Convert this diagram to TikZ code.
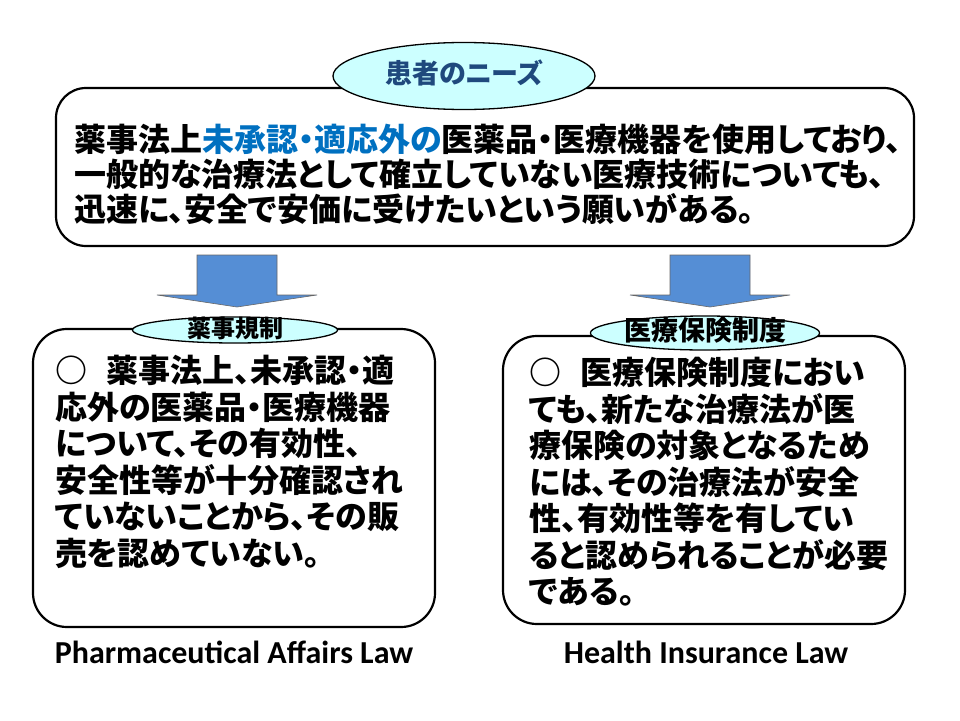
\documentclass[tikz,border=0pt]{standalone}
\usepackage{fontspec}
\newfontfamily\jp{Noto Sans CJK JP}[RawFeature=+palt]
\newfontfamily\lat{Carlito}
\usetikzlibrary{positioning}
\usetikzlibrary{shapes.geometric}
\definecolor{needblue}{RGB}{0,112,192}
\definecolor{capsule}{RGB}{204,255,255}
\definecolor{navy}{RGB}{31,73,125}
\definecolor{arrowfill}{RGB}{85,142,213}
\tikzset{
  panel/.style={draw, line width=2.2pt, rounded corners=34pt, inner sep=0pt},
  tag/.style={ellipse, draw, line width=1.3pt, fill=capsule, inner sep=0pt,
    text height=15pt, text depth=-4pt},
  body/.style={anchor=north west, align=left, inner sep=0pt,
    font=\jp\bfseries\fontsize{32}{36.5}\selectfont},
  bigarrow/.style={fill=arrowfill, draw=black!60, line width=0.6pt},
  lawname/.style={anchor=base, font=\lat\bfseries\fontsize{32}{34}\selectfont}
}

\begin{document}
\begin{tikzpicture}[x=1pt,y=-1pt]
\useasboundingbox (0,0) rectangle (960,720);
% patients' needs
\node[panel, rounded corners=30pt, minimum width=858pt, minimum height=158pt] (needs) at (485,167) {};
\node[tag, minimum width=262pt, minimum height=67pt, text=navy,
  font=\jp\bfseries\fontsize{27}{27}\selectfont] (needstag) at (464,76) {患者のニーズ};
\node[body, font=\jp\bfseries\fontsize{32}{35}\selectfont] (needstext) at (74,124)
  {薬事法上\textcolor{needblue}{未承認・適応外の}医薬品・医療機器を使用しており、\\
   一般的な治療法として確立していない医療技術についても、\\
   迅速に、安全で安価に受けたいという願いがある。};

% arrows
\foreach \x in {237,710} {
\draw[bigarrow] (\x-40,255) -- (\x+40,255) -- (\x+40,295) -- (\x+80,295)
  -- (\x,307) -- (\x-80,295) -- (\x-40,295) -- cycle;
}

% pharmaceutical affairs law
\node[panel, minimum width=402pt, minimum height=298pt] (drugbox) at (234,478) {};
\node[tag, minimum width=205pt, minimum height=26pt,
  font=\jp\bfseries\fontsize{24}{24}\selectfont] (drugtag) at (235,330) {薬事規制};
\node[body] (drugtext) at (55,355)
  {○\hspace{19pt}薬事法上、未承認・適\\
   応外の医薬品・医療機器\\
   について、その有効性、\\
   安全性等が十分確認され\\
   ていないことから、その販\\
   売を認めていない。};
\node[lawname] (druglaw) at (234,663) {Pharmaceutical Affairs Law};

% health insurance law
\node[panel, minimum width=402pt, minimum height=288pt] (insbox) at (704,480) {};
\node[tag, minimum width=224pt, minimum height=34pt,
  font=\jp\bfseries\fontsize{27}{27}\selectfont] (instag) at (705,333) {医療保険制度};
\node[body] (instext) at (529,357)
  {○\hspace{19pt}医療保険制度におい\\
   ても、新たな治療法が医\\
   療保険の対象となるため\\
   には、その治療法が安全\\
   性、有効性等を有してい\\
   ると認められることが必要\\
   である。};
\node[lawname] (inslaw) at (706,663) {Health Insurance Law};
\end{tikzpicture}
\end{document}
